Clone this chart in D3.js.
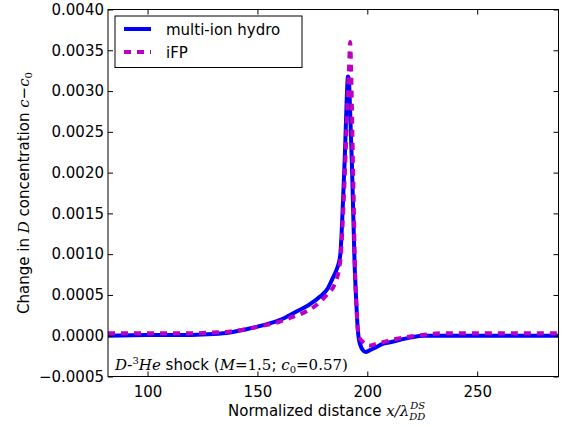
<!DOCTYPE html>
<html>
<head>
<meta charset="utf-8">
<script src="https://cdn.jsdelivr.net/npm/d3@7"></script>
<style>
  body { margin: 0; background: #fff; }
  text { font-family: "DejaVu Sans", sans-serif; }
  .math { font-family: "DejaVu Serif", serif; font-style: italic; }
</style>
</head>
<body>
<div id="chart"></div>
<script>
// Data: [x / lambda, c - c0]
const hydroData = [
  [82, 0], [100, 0.00001], [120, 0.00001], [130, 0.00002], [137.5, 0.00004], [145, 0.00008],
  [152.7, 0.00013], [160, 0.00019], [168, 0.0003], [173, 0.00037], [178.5, 0.00048],
  [182, 0.00058], [184.5, 0.00072], [186.3, 0.00083], [187.6, 0.00097],
  [188.3, 0.00125], [189, 0.00170], [189.7, 0.00215], [190.2, 0.00255], [190.7, 0.00295],
  [191.2, 0.00318], [191.6, 0.00315], [192, 0.0029], [192.5, 0.0025], [193, 0.0021],
  [193.4, 0.0017], [194.2, 0.0009], [195, 0.0004], [195.6, 0.0001], [196.2, -0.00005],
  [196.9, -0.00012], [197.8, -0.00017], [199.3, -0.0002], [201, -0.00018], [204, -0.00014],
  [207, -0.0001], [210.4, -0.00008], [215, -0.00005], [220, -0.00002], [226, 0], [287, 0]
];
const ifpData = [
  [82, 0.00003], [100, 0.00003], [120, 0.00003], [130, 0.00004], [137, 0.00005],
  [145, 0.00008], [152, 0.00012], [160, 0.00017], [166, 0.00023], [172.4, 0.0003],
  [177, 0.00038], [181.5, 0.0005], [185.3, 0.00064], [187, 0.0008], [188, 0.001],
  [189, 0.0015], [189.8, 0.002], [190.5, 0.0025], [191.2, 0.003], [191.7, 0.0033],
  [192.2, 0.0036], [192.6, 0.0033], [193, 0.0028], [193.4, 0.0022], [193.8, 0.0017],
  [194.3, 0.0009], [195, 0.0004], [195.6, 0.0001], [196.3, -0.00002], [197.4, -0.00006],
  [199, -0.0001], [201, -0.00012], [204, -0.0001], [207, -0.00008], [213, -0.00004],
  [219.5, -0.00001], [225, 0.00001], [235, 0.00003], [287, 0.00003]
];
const xTicks = [100, 150, 200, 250];
const yTicks = [-0.0005, 0, 0.0005, 0.001, 0.0015, 0.002, 0.0025, 0.003, 0.0035, 0.004];

const W = 563, H = 427;
const margin = {top: 9.5, right: 4.5, bottom: 50.5, left: 108};
const width = W - margin.left - margin.right,
      height = H - margin.top - margin.bottom;

const svg = d3.select("#chart").append("svg")
  .attr("width", W).attr("height", H);
const g = svg.append("g")
  .attr("transform", "translate(" + margin.left + "," + margin.top + ")");

const x = d3.scaleLinear().domain([82, 287]).range([0, width]);
const y = d3.scaleLinear().domain([-0.0005, 0.004]).range([height, 0]);

// clip to plot area
g.append("clipPath").attr("id", "clip")
  .append("rect").attr("width", width).attr("height", height);

const line = d3.line()
  .x(d => x(d[0]))
  .y(d => y(d[1]))
  .curve(d3.curveMonotoneX);

g.append("path")
  .datum(hydroData)
  .attr("clip-path", "url(#clip)")
  .attr("fill", "none")
  .attr("stroke", "#0000ff")
  .attr("stroke-width", 4)
  .attr("stroke-linejoin", "round")
  .attr("d", line);

g.append("path")
  .datum(ifpData)
  .attr("clip-path", "url(#clip)")
  .attr("fill", "none")
  .attr("stroke", "#bf00bf")
  .attr("stroke-width", 4)
  .attr("stroke-dasharray", "7,6")
  .attr("d", line);

// axes, ticks inward on all sides
const fmt = d3.format(".4f");
function styleAxis(sel) {
  sel.select(".domain").remove();
  sel.selectAll("line").attr("stroke", "#000");
  sel.selectAll("text").style("font-size", "15px").attr("fill", "#000");
}
g.append("g").attr("transform", "translate(0," + height + ")")
  .call(d3.axisBottom(x).tickValues(xTicks).tickSizeInner(-5).tickSizeOuter(0).tickPadding(10))
  .call(styleAxis);
g.append("g")
  .call(d3.axisTop(x).tickValues(xTicks).tickSizeInner(-5).tickSizeOuter(0).tickFormat(""))
  .call(styleAxis);
g.append("g")
  .call(d3.axisLeft(y).tickValues(yTicks).tickSizeInner(-5).tickSizeOuter(0).tickPadding(4).tickFormat(fmt))
  .call(styleAxis);
g.append("g").attr("transform", "translate(" + width + ",0)")
  .call(d3.axisRight(y).tickValues(yTicks).tickSizeInner(-5).tickSizeOuter(0).tickFormat(""))
  .call(styleAxis);

g.append("rect")
  .attr("width", width).attr("height", height)
  .attr("fill", "none").attr("stroke", "#000").attr("stroke-width", 1);

// legend
const lg = g.append("g").attr("transform", "translate(7,6.5)");
lg.append("rect").attr("width", 187).attr("height", 51.5)
  .attr("fill", "#fff").attr("stroke", "#000").attr("stroke-width", 1);
const legendItems = [
  {label: "multi-ion hydro", color: "#0000ff", dash: null},
  {label: "iFP", color: "#bf00bf", dash: "7,6"}
];
legendItems.forEach((d, i) => {
  const yy = 13 + i * 23;
  lg.append("line").attr("x1", 9).attr("x2", 36).attr("y1", yy).attr("y2", yy)
    .attr("stroke", d.color).attr("stroke-width", 4)
    .attr("stroke-dasharray", d.dash);
  lg.append("text").attr("x", 51).attr("y", yy + 5.5)
    .style("font-size", "15px").text(d.label);
});

// annotation
const ann = g.append("text").attr("x", 7).attr("y", 360.5).style("font-size", "15px");
ann.append("tspan").attr("class", "math").text("D");
ann.append("tspan").text("-");
ann.append("tspan").attr("class", "math").attr("dy", -6).style("font-size", "10px").style("font-style", "normal").text("3");
ann.append("tspan").attr("class", "math").attr("dy", 6).text("He");
ann.append("tspan").text(" shock (");
ann.append("tspan").attr("class", "math").text("M");
ann.append("tspan").attr("class", "math").style("font-style", "normal").text("=1.5");
ann.append("tspan").text("; ");
ann.append("tspan").attr("class", "math").text("c");
ann.append("tspan").attr("class", "math").attr("dy", 3).style("font-size", "10px").style("font-style", "normal").text("0");
ann.append("tspan").attr("class", "math").attr("dy", -3).style("font-style", "normal").text("=0.57)");

// x label
const xl = svg.append("text").attr("x", 228).attr("y", 416)
  .attr("text-anchor", "start").style("font-size", "15px");
xl.append("tspan").text("Normalized distance ");
xl.append("tspan").attr("class", "math").text("x/λ");
xl.append("tspan").attr("class", "math").attr("dy", 4).attr("dx", 0).style("font-size", "10px").text("DD");
xl.append("tspan").attr("class", "math").attr("dy", -11).attr("dx", -15).style("font-size", "10px").text("DS");

// y label
const yl = svg.append("text")
  .attr("transform", "translate(29," + (margin.top + height / 2) + ") rotate(-90)")
  .attr("text-anchor", "middle").style("font-size", "15px");
yl.append("tspan").text("Change in ");
yl.append("tspan").attr("class", "math").text("D");
yl.append("tspan").text(" concentration ");
yl.append("tspan").attr("class", "math").text("c");
yl.append("tspan").text("−");
yl.append("tspan").attr("class", "math").text("c");
yl.append("tspan").attr("class", "math").attr("dy", 3).style("font-size", "10px").style("font-style", "normal").text("0");
</script>
</body>
</html>
